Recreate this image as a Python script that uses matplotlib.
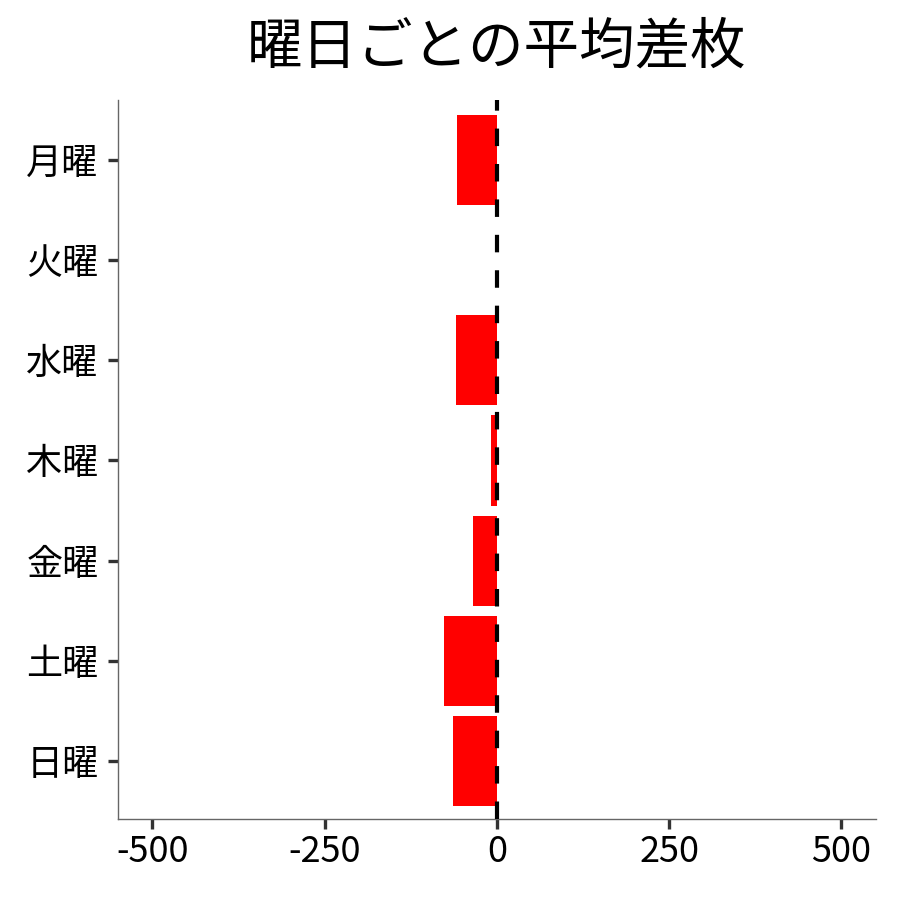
import matplotlib
matplotlib.use("Agg")
import matplotlib.pyplot as plt

plt.rcParams['font.family'] = ['Noto Sans CJK JP', 'DejaVu Sans']

days = ['月曜', '火曜', '水曜', '木曜', '金曜', '土曜', '日曜']
avg_diff = [-58, 0, -59, -9, -35, -77, -64]
xticks = [-500, -250, 0, 250, 500]
xticklabels = ['-500', '-250', '0', '250', '500']

fig = plt.figure(figsize=(9, 9), dpi=100)
ax = fig.add_axes([0.131, 0.09, 0.842, 0.799])

n = len(days)
ypos = [n - 1 - i for i in range(n)]
ax.barh(ypos, avg_diff, height=0.9, color='#ff0000', zorder=2)
ax.axvline(0, color='black', lw=3, dashes=(4.2, 4.3), zorder=3)

ax.set_xlim(-550, 550)
ax.set_ylim(-0.58, 6.6)
ax.set_yticks(ypos)
ax.set_yticklabels(days)
ax.set_xticks(xticks)
ax.set_xticklabels(xticklabels)
ax.tick_params(axis='both', length=7, width=2.4, color='#333333', labelsize=26, labelcolor='black')
ax.tick_params(axis='x', pad=4)
ax.tick_params(axis='y', pad=7)

for s in ['top', 'right']:
    ax.spines[s].set_visible(False)
for s in ['left', 'bottom']:
    ax.spines[s].set_color('#666666')
    ax.spines[s].set_linewidth(1)

ax.set_title('曜日ごとの平均差枚', fontsize=40, pad=26)

fig.savefig('out.png', dpi=100)
